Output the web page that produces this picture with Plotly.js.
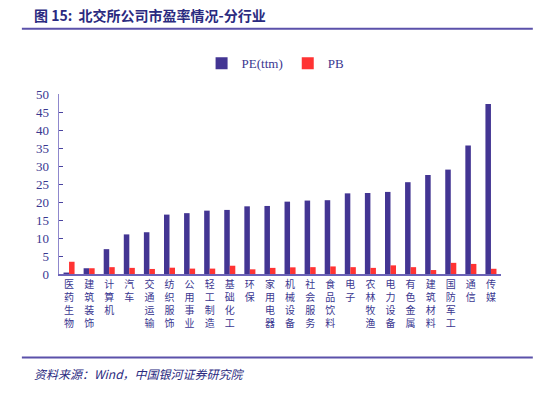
<!DOCTYPE html>
<html>
<head>
<meta charset="utf-8">
<script src="https://cdn.plot.ly/plotly-3.0.1.min.js"></script>
<style>html,body{margin:0;padding:0;background:#fff;}#chart{width:533px;height:394px;}</style>
</head>
<body>
<div id="chart"></div>
<script>
const categories = ["医药生物","建筑装饰","计算机","汽车","交通运输","纺织服饰","公用事业","轻工制造","基础化工","环保","家用电器","机械设备","社会服务","食品饮料","电子","农林牧渔","电力设备","有色金属","建筑材料","国防军工","通信","传媒"];
const peTtm = [0.4,1.6,6.9,11.0,11.6,16.5,16.9,17.6,17.8,18.8,18.9,20.1,20.4,20.5,22.4,22.5,22.8,25.5,27.5,29.0,35.7,47.2];
const pb = [3.4,1.6,1.9,1.7,1.4,1.75,1.5,1.5,2.3,1.3,1.7,1.85,1.9,2.1,1.9,1.7,2.4,1.9,1.1,3.1,2.8,1.45];
const yTicks = [0,5,10,15,20,25,30,35,40,45,50];
const titleText = "图 15:  北交所公司市盈率情况-分行业";
const sourceText = "资料来源：Wind，中国银河证券研究院";

const vertical = categories.map(c => c.split("").join("<br>"));
const ink = "#3a3790";
const serif = "'Liberation Serif', 'Times New Roman', 'DejaVu Serif', serif";
const cjk = "'Noto Sans CJK SC', sans-serif";

const data = [
  {type:"bar", name:"PE(ttm)", x:categories, y:peTtm, marker:{color:"#433593"}},
  {type:"bar", name:"PB", x:categories, y:pb, marker:{color:"#ff3333"}}
];
const layout = {
  width:533, height:394,
  margin:{l:59, r:32, t:94, b:120},
  paper_bgcolor:"#fff", plot_bgcolor:"#fff",
  barmode:"group", bargap:0.45, bargroupgap:0,
  showlegend:true,
  legend:{orientation:"h", x:0.49, xanchor:"center", y:1.17, yanchor:"middle",
          font:{family:serif, size:13, color:ink}, itemwidth:30, traceorder:"normal"},
  xaxis:{type:"category", tickmode:"array", tickvals:categories, ticktext:vertical,
         tickfont:{family:cjk, size:10, color:ink}, tickangle:0,
         showline:true, linecolor:"#6c64b8", linewidth:1.5, ticks:"", showgrid:false, zeroline:false,
         fixedrange:true},
  yaxis:{range:[0,50], tickmode:"array", tickvals:yTicks, ticktext:yTicks.map(String),
         tickfont:{family:serif, size:13, color:ink},
         showline:true, linecolor:"#8f88cc", linewidth:1.5, ticks:"inside", ticklen:4, tickcolor:"#4a43a0",
         showgrid:false, zeroline:false, ticklabelstandoff:6, fixedrange:true},
  shapes:[
    {type:"line", xref:"paper", yref:"paper", x0:-0.084, x1:1.072, y0:1.362, y1:1.362, line:{color:"#5b51aa", width:2}},
    {type:"line", xref:"paper", yref:"paper", x0:-0.084, x1:1.072, y0:-0.464, y1:-0.464, line:{color:"#5b51aa", width:2}}
  ],
  annotations:[
    {text:"<b>"+titleText+"</b>", xref:"paper", yref:"paper", x:-0.061, y:1.44, xanchor:"left", yanchor:"middle",
     showarrow:false, font:{family:cjk, size:14, color:"#2a2a80"}},
    {text:"<i>"+sourceText+"</i>", xref:"paper", yref:"paper", x:-0.061, y:-0.55, xanchor:"left", yanchor:"middle",
     showarrow:false, font:{family:cjk, size:12, color:"#2a2a80"}}
  ]
};
Plotly.newPlot("chart", data, layout, {displayModeBar:false, staticPlot:true});
</script>
</body>
</html>
